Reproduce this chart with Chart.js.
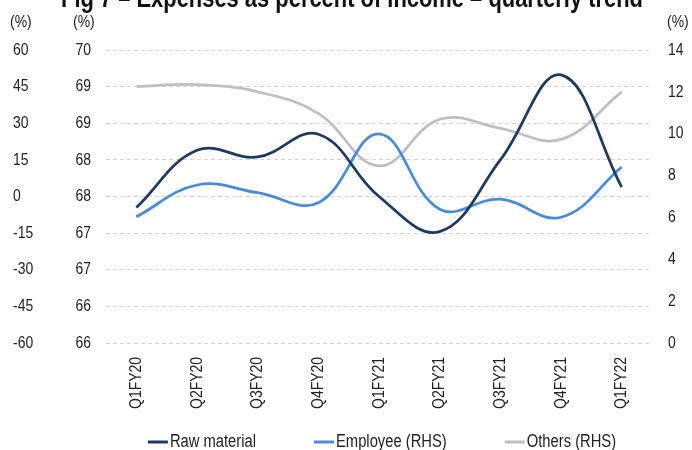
<!DOCTYPE html>
<html>
<head>
<meta charset="utf-8">
<script src="https://cdn.jsdelivr.net/npm/chart.js@4.4.1/dist/chart.umd.min.js"></script>
<style>
  html, body { margin: 0; padding: 0; background: #ffffff; }
  #wrap { position: relative; width: 692px; height: 450px; }
</style>
</head>
<body>
<div id="wrap"><canvas id="c" width="692" height="450"></canvas></div>
<script>
// ---- data ----
const titleText = 'Fig 7 – Expenses as percent of income – quarterly trend';
const categories = ['Q1FY20','Q2FY20','Q3FY20','Q4FY20','Q1FY21','Q2FY21','Q3FY21','Q4FY21','Q1FY22'];
const rawMaterial = [67.85, 68.63, 68.54, 68.85, 68.0, 67.52, 68.5, 69.66, 68.13];
const employee = [6.03, 7.55, 7.18, 6.70, 9.99, 6.39, 6.87, 6.01, 8.41];
const others = [12.25, 12.35, 12.0, 10.97, 8.46, 10.69, 10.26, 9.73, 12.0];
const seriesNames = ['Raw material', 'Employee (RHS)', 'Others (RHS)'];
const leftTickLabels = ['66','66','67','67','68','68','69','69','70'];
const farLeftTickLabels = ['-60','-45','-30','-15','0','15','30','45','60'];
const rightTickLabels = ['0','2','4','6','8','10','12','14'];
const unitLabel = '(%)';

// ---- narrow text (Arial Narrow look: Liberation Sans condensed horizontally) ----
const canvas = document.getElementById('c');
const ctx0 = canvas.getContext('2d');
const NARROW = 0.82;
const origFill = ctx0.fillText.bind(ctx0);
const origMeasure = ctx0.measureText.bind(ctx0);
ctx0.fillText = function (text, x, y, maxWidth) {
  this.save();
  this.translate(x, y);
  this.scale(NARROW, 1);
  origFill(text, 0, 0);
  this.restore();
};
ctx0.measureText = function (text) {
  const m = origMeasure(text);
  return {
    width: m.width * NARROW,
    actualBoundingBoxLeft: m.actualBoundingBoxLeft * NARROW,
    actualBoundingBoxRight: m.actualBoundingBoxRight * NARROW,
    actualBoundingBoxAscent: m.actualBoundingBoxAscent,
    actualBoundingBoxDescent: m.actualBoundingBoxDescent,
    fontBoundingBoxAscent: m.fontBoundingBoxAscent,
    fontBoundingBoxDescent: m.fontBoundingBoxDescent
  };
};

const FONT = "'Liberation Sans', Arial, sans-serif";
const FS = 17;
const LEG_FS = 18;
const TXT = '#222222';
const colors = ['#1f3a5f', '#4a8bd8', '#bfbfbf'];

const decor = {
  id: 'decor',
  afterDraw(chart) {
    const ctx = chart.ctx;
    const ca = chart.chartArea;
    ctx.save();
    // title (cropped at top of the picture)
    let tfs = 26;
    ctx.font = 'bold ' + tfs + 'px ' + FONT;
    const w = ctx.measureText(titleText).width;
    tfs = tfs * 582 / w;
    ctx.font = 'bold ' + tfs.toFixed(2) + 'px ' + FONT;
    ctx.fillStyle = '#111111';
    ctx.textAlign = 'center';
    ctx.textBaseline = 'alphabetic';
    ctx.fillText(titleText, 352, 7);
    // unit labels
    ctx.font = FS + 'px ' + FONT;
    ctx.fillStyle = TXT;
    ctx.textAlign = 'left';
    ctx.textBaseline = 'middle';
    const sF = chart.scales.yFar, sL = chart.scales.y, sR = chart.scales.y2;
    ctx.fillText(unitLabel, sF.left - 3, 22);
    ctx.fillText(unitLabel, sL.left - 2, 22);
    ctx.fillText(unitLabel, sR.left + 15, 22);
    // legend
    ctx.font = LEG_FS + 'px ' + FONT;
    const sample = 20, gapS = 2, gapI = 58;
    const widths = seriesNames.map(n => sample + gapS + ctx.measureText(n).width);
    const total = widths.reduce((a, b) => a + b, 0) + gapI * (seriesNames.length - 1);
    let x = (ca.left + ca.right) / 2 + 3 - total / 2;
    const y = 442;
    seriesNames.forEach((n, i) => {
      ctx.strokeStyle = colors[i];
      ctx.lineWidth = 3;
      ctx.beginPath();
      ctx.moveTo(x, y);
      ctx.lineTo(x + sample, y);
      ctx.stroke();
      ctx.fillStyle = TXT;
      ctx.fillText(n, x + sample + gapS, y);
      x += widths[i] + gapI;
    });
    ctx.restore();
  }
};

new Chart(canvas, {
  type: 'line',
  data: {
    labels: categories,
    datasets: [
      { label: seriesNames[0], data: rawMaterial, yAxisID: 'y', borderColor: colors[0], backgroundColor: colors[0], borderWidth: 2.75, pointRadius: 0, tension: 0.4, order: 1 },
      { label: seriesNames[1], data: employee, yAxisID: 'y2', borderColor: colors[1], backgroundColor: colors[1], borderWidth: 2.75, pointRadius: 0, tension: 0.4, order: 2 },
      { label: seriesNames[2], data: others, yAxisID: 'y2', borderColor: colors[2], backgroundColor: colors[2], borderWidth: 2.75, pointRadius: 0, tension: 0.4, order: 3 }
    ]
  },
  options: {
    responsive: false,
    animation: false,
    events: [],
    layout: { padding: { top: 50, left: 13, right: 8, bottom: 0 } },
    plugins: { legend: { display: false }, title: { display: false }, tooltip: { enabled: false } },
    scales: {
      x: {
        type: 'category',
        offset: true,
        grid: { display: false, drawTicks: false },
        border: { display: false },
        ticks: { minRotation: 90, maxRotation: 90, padding: 14, color: TXT, font: { family: FONT, size: FS } },
        afterFit: (s) => { s.height = 107; s.paddingLeft = 0; s.paddingRight = 0; }
      },
      y: {
        position: 'left',
        weight: 1,
        min: 66, max: 70,
        grid: { color: '#d4d4d4', lineWidth: 1, drawTicks: false },
        border: { display: false, dash: [4, 3] },
        ticks: { stepSize: 0.5, padding: 15, color: TXT, font: { family: FONT, size: FS },
                 callback: (v, i) => leftTickLabels[i] },
        afterFit: (s) => { s.width = 31; }
      },
      yFar: {
        type: 'linear',
        position: 'left',
        weight: 2,
        min: -60, max: 60,
        grid: { display: false, drawTicks: false },
        border: { display: false },
        ticks: { stepSize: 15, padding: 10, crossAlign: 'far', color: TXT, font: { family: FONT, size: FS },
                 callback: (v, i) => farLeftTickLabels[i] },
        afterFit: (s) => { s.width = 62; }
      },
      y2: {
        position: 'right',
        min: 0, max: 14,
        grid: { display: false, drawTicks: false },
        border: { display: false },
        ticks: { stepSize: 2, padding: 16, color: TXT, font: { family: FONT, size: FS },
                 callback: (v, i) => rightTickLabels[i] },
        afterFit: (s) => { s.width = 32; }
      }
    }
  },
  plugins: [decor]
});
</script>
</body>
</html>
